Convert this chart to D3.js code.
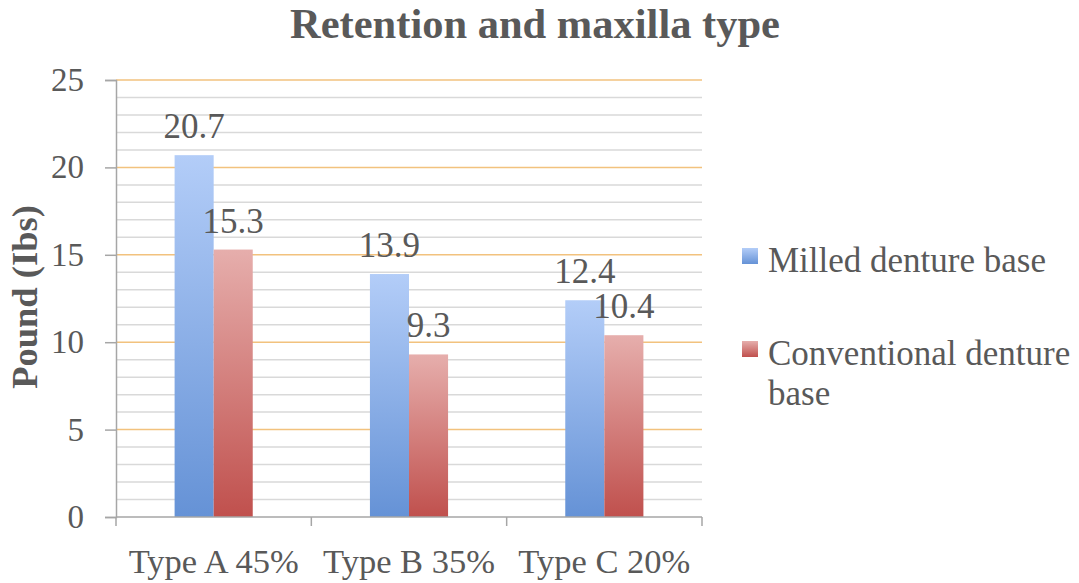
<!DOCTYPE html>
<html><head><meta charset="utf-8">
<script src="https://cdn.jsdelivr.net/npm/d3@7"></script>
<style>body{margin:0;background:#fff}svg{display:block}</style>
</head><body>
<svg id="c" width="1079" height="583"></svg>
<script>
const categories = ["Type A 45%", "Type B 35%", "Type C 20%"];
const seriesNames = ["Milled denture base", "Conventional denture base"];
const milled = [20.7, 13.9, 12.4];
const conventional = [15.3, 9.3, 10.4];
const yTicks = [0, 5, 10, 15, 20, 25];
const title = "Retention and maxilla type";
const yLabel = "Pound (Ibs)";

const svg = d3.select("#c");
const font = "Liberation Serif, Times New Roman, serif";
const txt = "#595959";
const L = 116, R = 702, T = 80, B = 517;

const x = d3.scaleBand().domain(categories).range([L, R]).padding(0);
const y = d3.scaleLinear().domain([0, 25]).range([B, T]);
const sub = d3.scaleBand().domain([0, 1]).range([0, x.bandwidth()]).paddingInner(0).paddingOuter(1.5);

const defs = svg.append("defs");
const grads = [["gB", "#b3cdf8", "#6592d6"], ["gR", "#e6aeac", "#c0504d"]];
grads.forEach(([id, a, b]) => {
  const g = defs.append("linearGradient").attr("id", id).attr("x1", 0).attr("y1", 0).attr("x2", 0).attr("y2", 1);
  g.append("stop").attr("offset", "0%").attr("stop-color", a);
  g.append("stop").attr("offset", "100%").attr("stop-color", b);
});

// minor gridlines
const minor = d3.range(1, 26).filter(v => v % 5 !== 0);
svg.append("g").selectAll("line").data(minor).join("line")
  .attr("x1", L).attr("x2", R).attr("y1", d => y(d)).attr("y2", d => y(d))
  .attr("stroke", "#d9d9d9").attr("stroke-width", 1.5);
svg.append("g").selectAll("line").data(yTicks.filter(v => v > 0)).join("line")
  .attr("x1", L).attr("x2", R).attr("y1", d => y(d)).attr("y2", d => y(d))
  .attr("stroke", "#f2c27e").attr("stroke-width", 1.5);

// axes
const yAxis = d3.axisLeft(y).tickValues(yTicks).tickSize(11).tickPadding(21);
const gy = svg.append("g").attr("transform", `translate(${L},0)`).call(yAxis);
gy.select(".domain").attr("stroke", "#a6a6a6").attr("stroke-width", 1.5);
gy.selectAll(".tick line").attr("stroke", "#a6a6a6").attr("stroke-width", 1.5);
gy.selectAll("text").attr("font-family", font).attr("font-size", 33).attr("fill", txt);

// bars
const data = [milled, conventional];
data.forEach((vals, si) => {
  svg.append("g").selectAll("rect").data(vals).join("rect")
    .attr("x", (d, i) => x(categories[i]) + sub(si))
    .attr("width", sub.bandwidth())
    .attr("y", d => y(d)).attr("height", d => B - y(d))
    .attr("fill", `url(#${grads[si][0]})`);
});

// x axis
svg.append("line").attr("x1", L).attr("x2", R).attr("y1", B).attr("y2", B)
  .attr("stroke", "#a6a6a6").attr("stroke-width", 1.5);
const bounds = categories.map(c => x(c)).concat([R]);
svg.append("g").selectAll("line").data(bounds).join("line")
  .attr("x1", d => d).attr("x2", d => d).attr("y1", B).attr("y2", B + 9)
  .attr("stroke", "#a6a6a6").attr("stroke-width", 1.5);
svg.append("g").selectAll("text").data(categories).join("text")
  .attr("x", d => x(d) + x.bandwidth() / 2).attr("y", 573)
  .attr("text-anchor", "middle").attr("font-family", font).attr("font-size", 34.5)
  .attr("fill", txt).text(d => d);

// data labels
data.forEach((vals, si) => {
  svg.append("g").selectAll("text").data(vals).join("text")
    .attr("x", (d, i) => x(categories[i]) + sub(si) + sub.bandwidth() / 2)
    .attr("y", d => y(d) - 17)
    .attr("text-anchor", "middle").attr("font-family", font).attr("font-size", 35)
    .attr("fill", txt).text(d => d.toFixed(1));
});

// title
svg.append("text").attr("x", 535).attr("y", 38).attr("text-anchor", "middle")
  .attr("font-family", font).attr("font-size", 42.5).attr("font-weight", "bold")
  .attr("fill", txt).text(title);

// y label
svg.append("text").attr("transform", "translate(37,297) rotate(-90)")
  .attr("text-anchor", "middle").attr("font-family", font).attr("font-size", 36.5)
  .attr("font-weight", "bold").attr("fill", txt).text(yLabel);

// legend
const leg = svg.append("g");
const legRows = [{sw: 248, lines: [[272, "Milled denture base"]]},
                 {sw: 341, lines: [[365, "Conventional denture"], [405, "base"]]}];
legRows.forEach((r, i) => {
  leg.append("rect").attr("x", 742).attr("y", r.sw).attr("width", 16).attr("height", 16)
    .attr("fill", `url(#${grads[i][0]})`);
  r.lines.forEach(([yy, t]) => {
    leg.append("text").attr("x", 768).attr("y", yy).attr("font-family", font)
      .attr("font-size", 35).attr("fill", txt).text(t);
  });
});
</script>
</body></html>
